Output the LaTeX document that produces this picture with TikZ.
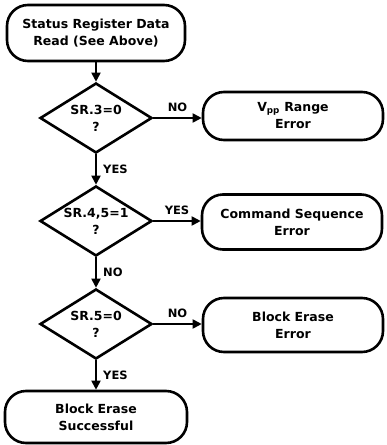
\documentclass[tikz,border=0pt]{standalone}
\usepackage{fontspec}
\setmainfont{DejaVu Sans}
\usetikzlibrary{shapes.geometric, arrows.meta, positioning}

\tikzset{
  termbox/.style={draw, line width=2.6pt, rounded corners=21pt, align=center,
    minimum width=180pt, minimum height=52pt, font=\bfseries\fontsize{12.5}{17}\selectfont},
  decide/.style={draw, diamond, line width=2.6pt, aspect=1.6, inner sep=0pt, align=center,
    minimum width=112pt, minimum height=70pt, font=\bfseries\fontsize{12.5}{17}\selectfont},
  flow/.style={-{Triangle[length=9pt, width=9pt]}, line width=1.8pt},
  tag/.style={font=\bfseries\fontsize{11.5}{13}\selectfont}
}

\begin{document}
\begin{tikzpicture}[x=1pt, y=-1pt]
   \useasboundingbox (0,0) rectangle (387,445);

   % Main column
   \node[termbox, minimum width=178pt, minimum height=56pt] (read) at (96,33) {Status Register Data\\Read (See Above)};
   \node[decide] (sr3) at (96,118) {SR.3=0\\?};
   \node[decide] (sr45) at (96,221) {SR.4,5=1\\?};
   \node[decide] (sr5) at (96,324) {SR.5=0\\?};
   \node[termbox, minimum width=182pt] (done) at (96,417) {Block Erase\\Successful};

   % Error boxes
   \node[termbox, minimum height=48pt] (vpp) at (293,116) {V\textsubscript{pp} Range\\Error};
   \node[termbox, minimum height=55pt] (cmd) at (292,222) {Command Sequence\\Error};
   \node[termbox, minimum height=54pt] (blk) at (293,325) {Block Erase\\Error};

   % Connectors
   \draw[flow] (read) -- (sr3);
   \draw[flow] (sr3) -- node[tag, right=3pt] {YES} (sr45);
   \draw[flow] (sr45) -- node[tag, right=3pt] {NO} (sr5);
   \draw[flow] (sr5) -- node[tag, right=3pt] {YES} (done);
   \draw[flow] (sr3.east) -- node[tag, above=2pt] {NO} (sr3.east -| vpp.west);
   \draw[flow] (sr45.east) -- node[tag, above=2pt] {YES} (sr45.east -| cmd.west);
   \draw[flow] (sr5.east) -- node[tag, above=2pt] {NO} (sr5.east -| blk.west);
\end{tikzpicture}
\end{document}
